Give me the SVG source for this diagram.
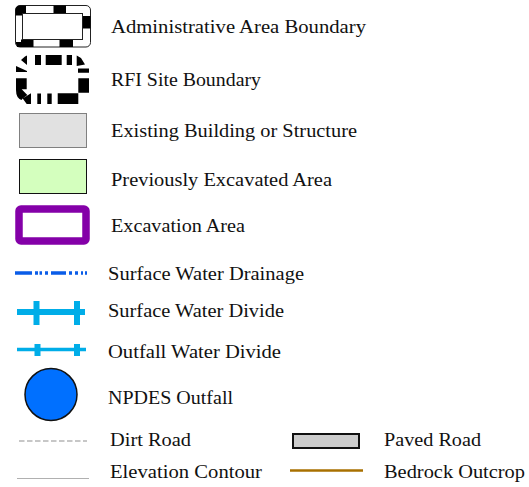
<svg xmlns="http://www.w3.org/2000/svg" width="529" height="487" viewBox="0 0 529 487">
<style>
text{font-family:"Liberation Serif","Noto Serif",serif;font-size:19.5px;fill:#111}
.k{fill:#000}
</style>
<rect width="529" height="487" fill="#fff"/>
<g id="connectors"/>
<g id="admin">
<rect x="15.500" y="5.500" width="75" height="41.500" rx="4.500" fill="#fff" stroke="#222" stroke-width="1"/>
<path class="k" d="M20 5.500H26V13.500H22.500V15.500H15.500V10Q15.500 5.500 20 5.500ZM53.500 5.500H66V13.500H53.500ZM82.500 16H90.500V28.500H82.500ZM17 47L15.500 42H21V39.500H33.500V47ZM59.500 39.500H73V47H59.500Z"/>
<rect x="22.500" y="13.500" width="60" height="26" fill="#fff" stroke="#222" stroke-width="1"/>
<text x="111" y="33" textLength="255" lengthAdjust="spacingAndGlyphs">Administrative Area Boundary</text>
</g>
<g id="rfi">
<path class="k" d="M21 60L25 56.500L27 55.500V65ZM35 55H41V65H35ZM45.700 55H61.700V65H45.700ZM66.700 55H72V65H66.700ZM76.700 55.500L81 58L85 64.500L76.700 66ZM16 66L27 71V72H16ZM78 68.500H89V72.700H78ZM16 78.300H26.700V89.300H21.700L27.300 95L22.700 98.500L21.500 100Q16 98 16 90ZM22.700 98.500L31 93.300V104H26.700ZM57.700 93.300H78.300V78.300H89V92.700H78.300V104H57.700ZM37.300 93.500H41V104H37.300ZM47.300 93.500H51.700V104H47.300Z"/>
<text x="111" y="86" textLength="150" lengthAdjust="spacingAndGlyphs">RFI Site Boundary</text>
</g>
<g id="building">
<rect x="19.500" y="113.500" width="67" height="34" fill="#e1e1e1" stroke="#808080" stroke-width="1"/>
<text x="111" y="137" textLength="246" lengthAdjust="spacingAndGlyphs">Existing Building or Structure</text>
</g>
<g id="excavated">
<rect x="19.500" y="159.500" width="67" height="34" fill="#d4ffbe" stroke="#111" stroke-width="1"/>
<text x="111" y="186" textLength="221" lengthAdjust="spacingAndGlyphs">Previously Excavated Area</text>
</g>
<g id="excavation">
<rect x="19" y="209" width="67" height="32" rx="2" fill="#fff" stroke="#8400a8" stroke-width="7.500"/>
<text x="111" y="232" textLength="134" lengthAdjust="spacingAndGlyphs">Excavation Area</text>
</g>
<g id="drainage">
<path d="M15 273H32M35 273H38M39.500 273H42M45 273H48M51 273H66M69 273H72M75 273H78M81 273H83M85 273H87" stroke="#0a5ce8" stroke-width="3.500" fill="none"/>
<text x="108" y="280" textLength="196" lengthAdjust="spacingAndGlyphs">Surface Water Drainage</text>
</g>
<g id="divide">
<path d="M17 312H85" stroke="#00ade8" stroke-width="6" fill="none"/>
<path d="M36.500 301V325M77 301V325" stroke="#00ade8" stroke-width="6" fill="none"/>
<text x="108" y="317" textLength="176" lengthAdjust="spacingAndGlyphs">Surface Water Divide</text>
</g>
<g id="outfall-divide">
<path d="M17 349.500H86" stroke="#00ade8" stroke-width="3.500" fill="none"/>
<path d="M37.500 344V356M77 344V356" stroke="#00ade8" stroke-width="6" fill="none"/>
<text x="108" y="358" textLength="173" lengthAdjust="spacingAndGlyphs">Outfall Water Divide</text>
</g>
<g id="npdes">
<circle cx="51" cy="394.500" r="26" fill="#0070ff" stroke="#111" stroke-width="1.500"/>
<text x="108" y="404" textLength="125" lengthAdjust="spacingAndGlyphs">NPDES Outfall</text>
</g>
<g id="dirt-road">
<path d="M19 441H87" stroke="#b5b5b5" stroke-width="1.500" stroke-dasharray="5.500 2.500" fill="none"/>
<text x="110" y="446" textLength="81" lengthAdjust="spacingAndGlyphs">Dirt Road</text>
</g>
<g id="contour">
<path d="M17 478.500H89" stroke="#b0b0b0" stroke-width="1" fill="none"/>
<text x="110" y="478" textLength="152" lengthAdjust="spacingAndGlyphs">Elevation Contour</text>
</g>
<g id="paved-road">
<rect x="293" y="434" width="66" height="14" fill="#ccc" stroke="#111" stroke-width="2"/>
<text x="384" y="446" textLength="97" lengthAdjust="spacingAndGlyphs">Paved Road</text>
</g>
<g id="bedrock">
<path d="M290 470.500H363" stroke="#a87000" stroke-width="2.500" fill="none"/>
<text x="384" y="478" textLength="141" lengthAdjust="spacingAndGlyphs">Bedrock Outcrop</text>
</g>
</svg>
